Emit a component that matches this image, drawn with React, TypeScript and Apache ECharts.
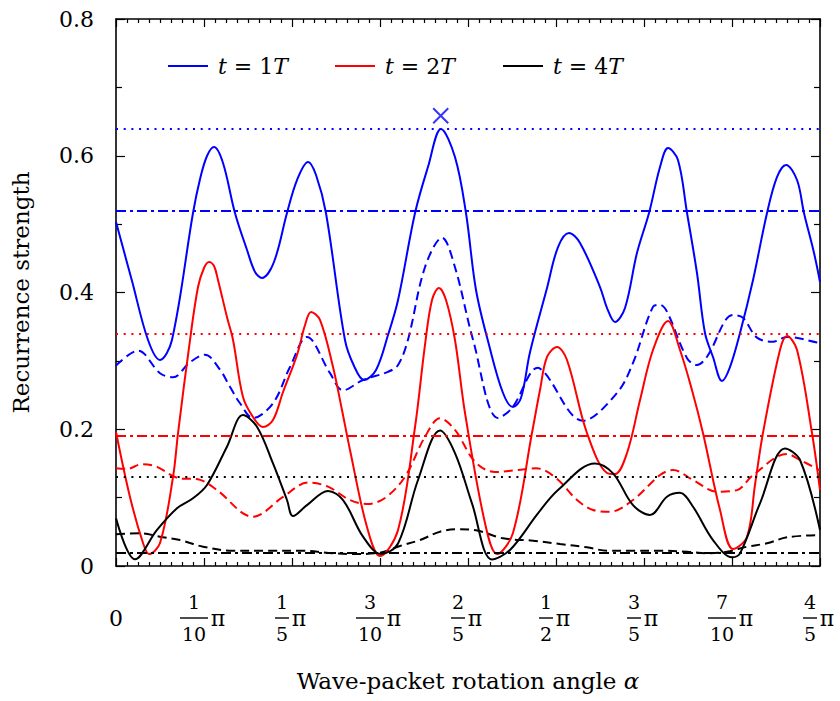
import React, { useEffect, useRef } from "react";
import * as echarts from "echarts";

// ---- data (x in units of π, y = recurrence strength) ----
const seriesNames = ["t = 1T", "t = 2T", "t = 4T"];
const tMultipliers = ["1", "2", "4"];
const colors = ["#0000ff", "#ff0000", "#000000"];

const blueSolid: number[][] = [
  [0, 0.5031], [0.0182, 0.4168], [0.0364, 0.3305], [0.05, 0.3013], [0.0636, 0.3305], [0.0875, 0.5163],
  [0.0955, 0.566], [0.1034, 0.5996], [0.1114, 0.6128], [0.1216, 0.5894], [0.1352, 0.5163], [0.1489, 0.4622],
  [0.158, 0.43], [0.1659, 0.4212], [0.1795, 0.4446], [0.1943, 0.5163], [0.2057, 0.5645], [0.2182, 0.5909],
  [0.2273, 0.5718], [0.2386, 0.5163], [0.2602, 0.3305], [0.2705, 0.2925], [0.2818, 0.272], [0.2955, 0.2867],
  [0.3091, 0.3378], [0.3205, 0.389], [0.3398, 0.5163], [0.3545, 0.5835], [0.3693, 0.6391], [0.3852, 0.5982],
  [0.3977, 0.5163], [0.4091, 0.4037], [0.4239, 0.3232], [0.4398, 0.253], [0.4511, 0.2325], [0.4602, 0.2457],
  [0.4705, 0.313], [0.4898, 0.4066], [0.5023, 0.4665], [0.5148, 0.487], [0.5273, 0.4724], [0.55, 0.408],
  [0.558, 0.3773], [0.567, 0.3569], [0.5784, 0.3773], [0.592, 0.4578], [0.6057, 0.5163], [0.6182, 0.5835],
  [0.6273, 0.6113], [0.6386, 0.5938], [0.6489, 0.5163], [0.6602, 0.4285], [0.6693, 0.3408], [0.6784, 0.3057],
  [0.6886, 0.2706], [0.6977, 0.291], [0.7091, 0.3408], [0.7239, 0.4183], [0.7398, 0.5163], [0.7511, 0.5689],
  [0.7614, 0.5865], [0.7739, 0.5645], [0.7818, 0.5163], [0.7932, 0.4578], [0.8, 0.4154],
];
const blueDashed: number[][] = [
  [0, 0.293], [0.025, 0.315], [0.05, 0.282], [0.0648, 0.276], [0.0841, 0.298], [0.1011, 0.309],
  [0.1182, 0.287], [0.1295, 0.262], [0.1409, 0.238], [0.1557, 0.2165], [0.1784, 0.238], [0.1977, 0.291],
  [0.217, 0.335], [0.2432, 0.282], [0.258, 0.257], [0.2807, 0.272], [0.3091, 0.284], [0.3205, 0.294],
  [0.3318, 0.331], [0.3511, 0.437], [0.3705, 0.48], [0.3852, 0.437], [0.4057, 0.331], [0.4341, 0.2165],
  [0.45, 0.231], [0.4795, 0.29], [0.4875, 0.282], [0.5307, 0.2125], [0.5693, 0.253], [0.5875, 0.297],
  [0.6102, 0.379], [0.6182, 0.382], [0.6261, 0.372], [0.6489, 0.304], [0.6602, 0.294], [0.6716, 0.306],
  [0.7011, 0.367], [0.7125, 0.363], [0.7284, 0.334], [0.7466, 0.328], [0.7625, 0.335], [0.7966, 0.327],
  [0.8, 0.326],
];
const redSolid: number[][] = [
  [0, 0.196], [0.0159, 0.1009], [0.0307, 0.0336], [0.0375, 0.0175], [0.05, 0.0336], [0.0648, 0.1302],
  [0.0705, 0.1945], [0.0841, 0.3305], [0.0932, 0.408], [0.1, 0.4358], [0.1057, 0.4446], [0.1114, 0.4388],
  [0.1159, 0.4183], [0.1261, 0.3642], [0.133, 0.3305], [0.1443, 0.2472], [0.1557, 0.2179], [0.167, 0.2033],
  [0.1784, 0.2135], [0.1898, 0.2545], [0.2057, 0.3086], [0.2148, 0.3525], [0.2216, 0.3715], [0.2318, 0.3598],
  [0.2466, 0.291], [0.2568, 0.2282], [0.2659, 0.1697], [0.2852, 0.057], [0.3, 0.0146], [0.3205, 0.0527],
  [0.3398, 0.2033], [0.3511, 0.3232], [0.3591, 0.389], [0.367, 0.4066], [0.375, 0.389], [0.3852, 0.3305],
  [0.3966, 0.2238], [0.4193, 0.0629], [0.433, 0.0175], [0.4511, 0.0483], [0.4727, 0.1945], [0.4818, 0.2574],
  [0.4898, 0.3057], [0.5011, 0.3203], [0.5125, 0.3013], [0.5352, 0.1945], [0.558, 0.136], [0.567, 0.1345],
  [0.5807, 0.1653], [0.5955, 0.2428], [0.6102, 0.3159], [0.6273, 0.3583], [0.6409, 0.3159], [0.6545, 0.2574],
  [0.667, 0.1945], [0.6864, 0.0819], [0.7011, 0.0249], [0.717, 0.0424], [0.7261, 0.1185], [0.7352, 0.1945],
  [0.7545, 0.3159], [0.7625, 0.3364], [0.7739, 0.3159], [0.7909, 0.1945], [0.8, 0.1112],
];
const redDashed: number[][] = [
  [0, 0.143], [0.0125, 0.142], [0.0295, 0.149], [0.0466, 0.145], [0.0693, 0.129], [0.0955, 0.126],
  [0.1148, 0.111], [0.1557, 0.072], [0.1898, 0.101], [0.2182, 0.122], [0.2409, 0.116], [0.2659, 0.0965],
  [0.2852, 0.0907], [0.3057, 0.0995], [0.3284, 0.1306], [0.3511, 0.189], [0.3682, 0.216], [0.3852, 0.199],
  [0.408, 0.1525], [0.4307, 0.1375], [0.4568, 0.1404], [0.4773, 0.143], [0.5, 0.1287], [0.5239, 0.0965],
  [0.542, 0.082], [0.5614, 0.0794], [0.5875, 0.0965], [0.6182, 0.133], [0.633, 0.1404], [0.6557, 0.1258],
  [0.683, 0.1087], [0.7057, 0.111], [0.7239, 0.133], [0.7625, 0.1638], [0.7773, 0.155], [0.8, 0.14],
];
const blackSolid: number[][] = [
  [0, 0.0697], [0.0216, 0.0098], [0.0466, 0.0527], [0.0693, 0.0844], [0.0875, 0.099], [0.1034, 0.1185],
  [0.1261, 0.1745], [0.1443, 0.2208], [0.1602, 0.2037], [0.1784, 0.15], [0.1943, 0.0965], [0.2011, 0.073],
  [0.217, 0.089], [0.2409, 0.1097], [0.258, 0.0965], [0.2807, 0.0429], [0.3011, 0.0175], [0.3205, 0.033],
  [0.3432, 0.1258], [0.3682, 0.198], [0.3852, 0.165], [0.4045, 0.0917], [0.4273, 0.0095], [0.4477, 0.0234],
  [0.4795, 0.077], [0.5023, 0.111], [0.5443, 0.15], [0.5648, 0.1355], [0.5875, 0.089], [0.6068, 0.0746],
  [0.6261, 0.1013], [0.6409, 0.107], [0.6557, 0.0867], [0.6784, 0.038], [0.7, 0.0127], [0.7091, 0.0185],
  [0.7318, 0.0917], [0.7602, 0.172], [0.7773, 0.155], [0.8, 0.0526],
];
const blackDashed: number[][] = [
  [0, 0.0463], [0.0273, 0.048], [0.05, 0.0428], [0.0727, 0.038], [0.0989, 0.0282], [0.133, 0.0224],
  [0.1716, 0.0224], [0.2091, 0.0224], [0.2466, 0.0186], [0.2693, 0.0175], [0.3, 0.0195], [0.3227, 0.0293],
  [0.3455, 0.038], [0.3682, 0.0502], [0.3886, 0.0537], [0.4114, 0.0516], [0.4398, 0.0405], [0.4739, 0.037],
  [0.5045, 0.0322], [0.5352, 0.0273], [0.558, 0.0224], [0.5875, 0.0224], [0.6182, 0.0224], [0.6489, 0.0209],
  [0.6716, 0.0186], [0.6943, 0.0209], [0.717, 0.0282], [0.7398, 0.0332], [0.7625, 0.042], [0.8, 0.0453],
];
const dottedLevels = [0.639, 0.344, 0.129];
const dashDotLevels = [0.516, 0.1945, 0.0224];
const crossMarker = [[0.369, 0.6586]];

const tickNumerators = ["", "1", "1", "3", "2", "1", "3", "7", "4"];
const tickDenominators = ["", "10", "5", "10", "5", "2", "5", "10", "5"];
const yTickLabels = ["0", "0.2", "0.4", "0.6", "0.8"];

const solidData = [blueSolid, redSolid, blackSolid];
const dashedData = [blueDashed, redDashed, blackDashed];

const FONT = "'DejaVu Serif', serif";

export default function App() {
  const ref = useRef<HTMLDivElement>(null);
  useEffect(() => {
    if (!ref.current) return;
    const chart = echarts.init(ref.current, null, { renderer: "svg" });

    const DOT = [2, 5.7];
    const DASHDOT = [10, 4, 3, 4];
    const DASH = [9, 5];
    const SMOOTH = 0.35;

    const series: any[] = [];
    for (let k = 0; k < 3; k++) {
      series.push({
        name: seriesNames[k] + " avg",
        type: "line",
        data: dashedData[k],
        smooth: SMOOTH,
        symbol: "none",
        color: colors[k],
        lineStyle: { color: colors[k], width: 2, type: DASH },
        z: 2,
      });
    }
    for (let k = 0; k < 3; k++) {
      series.push({
        name: seriesNames[k],
        type: "line",
        data: solidData[k],
        smooth: SMOOTH,
        symbol: "none",
        color: colors[k],
        lineStyle: { color: colors[k], width: 2 },
        z: 3,
        markLine: {
          silent: true,
          symbol: ["none", "none"],
          label: { show: false },
          animation: false,
          data: [
            { yAxis: dottedLevels[k], lineStyle: { color: colors[k], width: 2, type: DOT } },
            { yAxis: dashDotLevels[k], lineStyle: { color: colors[k], width: 2, type: DASHDOT } },
          ],
        },
      });
    }
    series.push({
      name: "max",
      type: "scatter",
      data: crossMarker,
      symbol: "path://M0,0L10,10M10,0L0,10",
      symbolSize: 15,
      itemStyle: { color: "none", borderColor: colors[0], borderWidth: 2 },
      z: 4,
    });

    const xLabel = (v: number) => {
      const i = Math.round(v * 10);
      if (i === 0) return "{e| }\n{z|0}\n{e| }";
      const den = tickDenominators[i];
      const w = den.length === 2 ? 2 : 1;
      return `{n${w}|${tickNumerators[i]}}{s| }\n{b${w}| }{p|π}\n{n${w}|${den}}{s| }`;
    };

    const axisCommon = {
      type: "value",
      min: 0,
      max: 0.8,
      axisLine: { show: true, onZero: false, lineStyle: { color: "#000", width: 1.6 } },
      splitLine: { show: false },
    };

    const legendText = {
      fontFamily: FONT,
      fontSize: 22,
      color: "#000",
      padding: [0, 0, 0, 5],
      rich: { i: { fontFamily: FONT, fontSize: 22, fontStyle: "italic", color: "#000" } },
    };
    const legendLefts = [163, 330, 498];

    chart.setOption({
      animation: false,
      backgroundColor: "#fff",
      grid: { left: 116, right: 20, top: 19, bottom: 135, containLabel: false },
      legend: [0, 1, 2].map((k) => ({
        data: [seriesNames[k]],
        left: legendLefts[k],
        top: 50,
        itemWidth: 40,
        itemHeight: 14,
        icon: "path://M0,0L40,0L40,2L0,2Z",
        selectedMode: false,
        formatter: () => `{i|t} = ${tMultipliers[k]}{i|T}`,
        textStyle: legendText,
      })),
      xAxis: [
        {
          ...axisCommon,
          position: "bottom",
          interval: 0.1,
          axisTick: { show: true, inside: true, length: 8, lineStyle: { width: 1.2 } },
          minorTick: { show: true, splitNumber: 8, length: 4, lineStyle: { color: "#000", width: 1.2 } },
          axisLabel: {
            show: true,
            margin: 26,
            color: "#000",
            fontFamily: FONT,
            formatter: xLabel,
            rich: {
              e: { fontSize: 19, lineHeight: 20, fontFamily: FONT },
              z: { fontSize: 22, lineHeight: 12, fontFamily: FONT, color: "#000" },
              n1: { fontSize: 19, lineHeight: 20, width: 14, align: "center", fontFamily: FONT, color: "#000" },
              n2: { fontSize: 19, lineHeight: 20, width: 28, align: "center", fontFamily: FONT, color: "#000" },
              s: { fontSize: 19, lineHeight: 20, width: 20 },
              b1: { width: 14, height: 1.4, backgroundColor: "#000", fontSize: 4 },
              b2: { width: 28, height: 1.4, backgroundColor: "#000", fontSize: 4 },
              p: { fontSize: 22, lineHeight: 12, width: 20, align: "center", fontFamily: FONT, color: "#000" },
            },
          },
          name: "Wave-packet rotation angle {i|α}",
          nameLocation: "middle",
          nameGap: 103,
          nameTextStyle: {
            fontFamily: FONT,
            fontSize: 23,
            color: "#000",
            rich: { i: { fontFamily: FONT, fontSize: 23, fontStyle: "italic", color: "#000" } },
          },
        },
        {
          ...axisCommon,
          position: "top",
          interval: 0.1,
          axisTick: { show: true, inside: true, length: 8, lineStyle: { width: 1.2 } },
          minorTick: { show: true, splitNumber: 8, length: 4, lineStyle: { color: "#000", width: 1.2 } },
          axisLabel: { show: false },
        },
      ],
      yAxis: [
        {
          ...axisCommon,
          position: "left",
          interval: 0.2,
          axisTick: { show: true, inside: true, length: 9, lineStyle: { width: 1.2 } },
          minorTick: { show: true, splitNumber: 2, length: 6, lineStyle: { color: "#000", width: 1.2 } },
          axisLabel: {
            show: true,
            margin: 22,
            color: "#000",
            fontFamily: FONT,
            fontSize: 22,
            formatter: (v: number) => yTickLabels[Math.round(v * 5)],
          },
          name: "Recurrence strength",
          nameLocation: "middle",
          nameGap: 84,
          nameTextStyle: { fontFamily: FONT, fontSize: 23, color: "#000" },
        },
        {
          ...axisCommon,
          position: "right",
          interval: 0.2,
          axisTick: { show: true, inside: true, length: 9, lineStyle: { width: 1.2 } },
          minorTick: { show: true, splitNumber: 2, length: 6, lineStyle: { color: "#000", width: 1.2 } },
          axisLabel: { show: false },
        },
      ],
      series,
    });
    return () => chart.dispose();
  }, []);
  return (
    <div
      ref={ref}
      style={{ position: "fixed", left: 0, top: 0, width: 840, height: 701, background: "#fff" }}
    />
  );
}
